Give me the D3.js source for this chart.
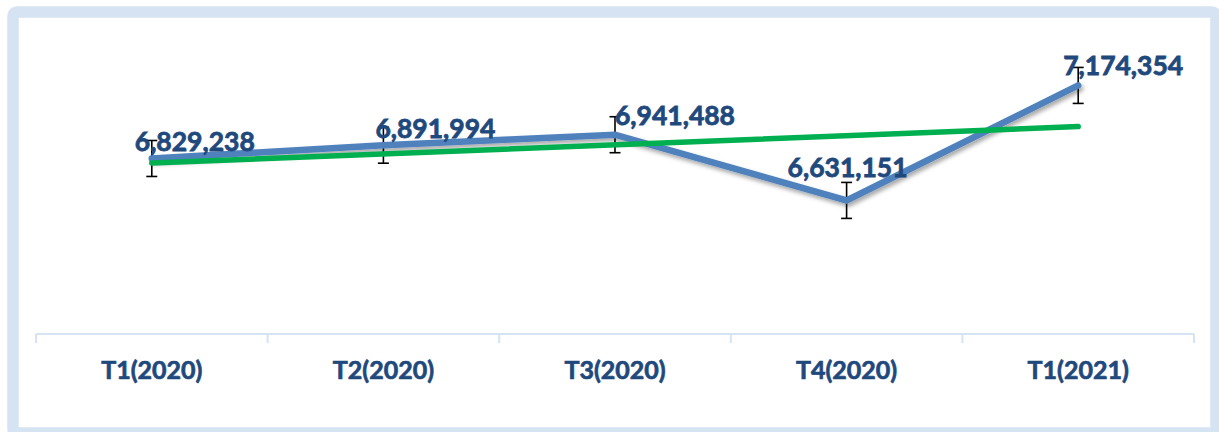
<!DOCTYPE html>
<html lang="en">
<head>
    <meta charset="UTF-8">
    <title>Line chart</title>
    <script src="https://cdn.jsdelivr.net/npm/d3@7"></script>
    <style>
        *{
            margin: 0;
            padding: 0;
        }
        body{
            background: #ffffff;
        }
        .axis text{
            font-family: Lato, sans-serif;
            font-weight: bold;
            font-size: 25px;
            fill: #1f497d;
            stroke: #1f497d;
            stroke-width: 0.7px;
        }
    </style>
</head>
<body>
    <div id="content"></div>

    <script>
        // categories and values
        var categories = ["T1(2020)", "T2(2020)", "T3(2020)", "T4(2020)", "T1(2021)"];
        var values = [6829238, 6891994, 6941488, 6631151, 7174354];
        // trend line (read at first and last category)
        var trendValues = [6808000, 6980000];
        // error bar amount (fixed)
        var errorAmount = 85000;
        var yDomain = [6000000, 7500000];

        var width = 1219;
        var height = 432;

        // label offsets relative to the point (layout only)
        var labelDx = [43, 52, 60, 1, 45];
        var labelDy = [-7, -7, -10, -23, -10];

        var plot = {left: 36, right: 1194, top: 16.5, bottom: 334};

        var svg = d3.select("#content")
                .append("svg")
                .attr("width", width).attr("height", height);

        // shadow for the blue line
        var defs = svg.append("defs");
        defs.append("filter")
                .attr("id", "shadow")
                .attr("x", "-5%").attr("y", "-20%")
                .attr("width", "110%").attr("height", "140%")
                .append("feDropShadow")
                .attr("dx", 2).attr("dy", 3)
                .attr("stdDeviation", 2)
                .attr("flood-color", "#000000")
                .attr("flood-opacity", 0.35);

        // frame
        svg.append("rect")
                .attr("x", 13).attr("y", 12)
                .attr("width", 1203).attr("height", 421)
                .attr("rx", 4)
                .attr("fill", "#ffffff")
                .attr("stroke", "#d5e3f3")
                .attr("stroke-width", 11.5);

        /* scales */
        var xScale = d3.scaleBand()
                .domain(categories)
                .range([plot.left, plot.right])
                .padding(0);

        var yScale = d3.scaleLinear()
                .domain(yDomain)
                .range([plot.bottom, plot.top]);

        function cx(i){
            return xScale(categories[i]) + xScale.bandwidth() / 2;
        }

        /* x axis */
        var xAxis = d3.axisBottom(xScale).tickSize(0).tickPadding(27);
        var gx = svg.append("g").attr("class", "axis")
                .attr("transform", "translate(0," + plot.bottom + ")")
                .call(xAxis);
        gx.select(".domain").remove();
        gx.selectAll("text").attr("dy", "0.72em");

        gx.append("line")
                .attr("x1", plot.left).attr("x2", plot.right)
                .attr("y1", 0).attr("y2", 0)
                .attr("stroke", "#d5e3f3")
                .attr("stroke-width", 2);

        var bounds = categories.map(function(c){ return xScale(c); });
        bounds.push(plot.right);
        gx.selectAll(".bound").data(bounds).enter().append("line")
                .attr("class", "bound")
                .attr("x1", function(d){ return d; })
                .attr("x2", function(d){ return d; })
                .attr("y1", 0).attr("y2", 9)
                .attr("stroke", "#d5e3f3")
                .attr("stroke-width", 2);

        /* error bars */
        var eg = svg.append("g");
        values.forEach(function(v, i){
            var x = cx(i);
            var y1 = yScale(v + errorAmount);
            var y2 = yScale(v - errorAmount);
            eg.append("line").attr("x1", x).attr("x2", x).attr("y1", y1).attr("y2", y2)
                    .attr("stroke", "#000").attr("stroke-width", 1.6);
            [y1, y2].forEach(function(y){
                eg.append("line").attr("x1", x - 5.5).attr("x2", x + 5.5).attr("y1", y).attr("y2", y)
                        .attr("stroke", "#000").attr("stroke-width", 1.6);
            });
        });

        /* main line */
        var line = d3.line()
                .x(function(d, i){ return cx(i); })
                .y(function(d){ return yScale(d); });

        svg.append("path")
                .attr("d", line(values))
                .attr("fill", "none")
                .attr("stroke", "#4f81bd")
                .attr("stroke-width", 6.5)
                .attr("stroke-linejoin", "miter")
                .attr("stroke-linecap", "round")
                .attr("filter", "url(#shadow)");

        /* trend line */
        var trendLine = d3.line()
                .x(function(d, i){ return cx(i === 0 ? 0 : categories.length - 1); })
                .y(function(d){ return yScale(d); });

        svg.append("path")
                .attr("d", trendLine(trendValues))
                .attr("fill", "none")
                .attr("stroke", "#00b050")
                .attr("stroke-width", 5.5)
                .attr("stroke-linecap", "round");

        /* data labels */
        var fmt = d3.format(",");
        svg.selectAll(".label").data(values).enter().append("text")
                .attr("class", "label")
                .attr("x", function(d, i){ return cx(i) + labelDx[i]; })
                .attr("y", function(d, i){ return yScale(d) + labelDy[i]; })
                .attr("text-anchor", "middle")
                .attr("font-family", "Lato, sans-serif")
                .attr("font-weight", "bold")
                .attr("font-size", "26.5px")
                .attr("fill", "#1f497d")
                .attr("stroke", "#1f497d")
                .attr("stroke-width", 0.8)
                .text(function(d){ return fmt(d); });
    </script>
</body>
</html>
